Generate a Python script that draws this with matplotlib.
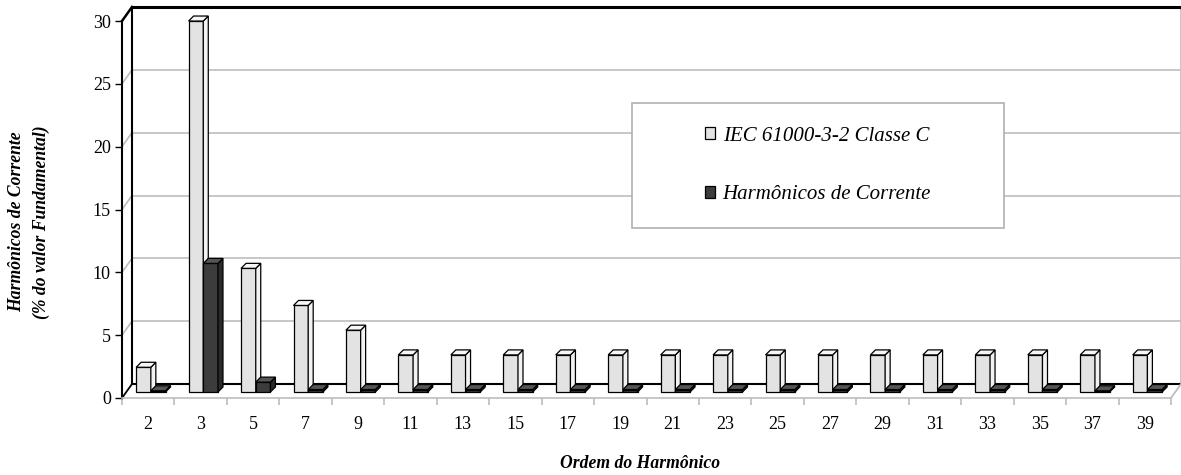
import matplotlib
matplotlib.use("Agg")
import matplotlib.pyplot as plt
from matplotlib.patches import Polygon, Rectangle, Patch
from matplotlib.lines import Line2D
import matplotlib.transforms as mtransforms

# Data
ordens = ["2", "3", "5", "7", "9", "11", "13", "15", "17", "19",
          "21", "23", "25", "27", "29", "31", "33", "35", "37", "39"]
iec_classe_c = [2, 30, 10, 7, 5, 3, 3, 3, 3, 3, 3, 3, 3, 3, 3, 3, 3, 3, 3, 3]
harm_corrente = [0.1, 10.4, 0.8, 0.2, 0.2, 0.2, 0.2, 0.2, 0.2, 0.2,
                 0.2, 0.2, 0.2, 0.2, 0.2, 0.2, 0.2, 0.2, 0.1, 0.2]
yticks = [0, 5, 10, 15, 20, 25, 30]

plt.rcParams['font.family'] = ['Liberation Serif', 'DejaVu Serif']

W, H = 1181, 475
fig = plt.figure(figsize=(W / 100, H / 100), dpi=100)
# front plane of the 3d box (pixels, origin top-left in the picture)
fx0, fx1, fy0, fy1 = 122, 1171, 398, 21
ax = fig.add_axes([fx0 / W, (H - fy0) / H, (fx1 - fx0) / W, (fy0 - fy1) / H])
ax.set_xlim(-0.5, len(ordens) - 0.5)
ax.set_ylim(0, 30)
ax.patch.set_visible(False)

DX, DY = 10, 14       # depth of the box
BDX, BDY = 5.5, 6     # bars sit halfway
TD = 5                # depth of one bar
K = 0.984             # bars a bit further back -> slightly smaller

back = mtransforms.offset_copy(ax.transData, fig=fig, x=DX, y=DY, units='dots')
y0 = ax.transData.transform((0, 0))[1]
mid = ax.transData + mtransforms.Affine2D().translate(0, -y0).scale(1, K).translate(BDX, y0 + BDY)
ident = mtransforms.IdentityTransform()

grid_c = '#bdbdbd'
xa, xb = -0.5, len(ordens) - 0.5


def seg(p, col, lw, z):
    ax.add_artist(Line2D([p[0], p[0] + DX], [p[1], p[1] + DY], transform=ident,
                         color=col, lw=lw, zorder=z, clip_on=False))


# back wall gridlines and connectors to front axis
for v in yticks[1:-1]:
    ax.plot([xa, xb], [v, v], transform=back, color=grid_c, lw=1.2, clip_on=False, zorder=1)
for v in yticks[1:]:
    p = ax.transData.transform((xa, v))
    if v < 30:
        seg(p, grid_c, 1.2, 1)
    else:
        seg(p, 'black', 1.8, 2)
# back wall edges
ax.plot([xa, xb], [30, 30], transform=back, color='black', lw=2.2, clip_on=False, zorder=2)
ax.plot([xa, xa], [0, 30], transform=back, color='black', lw=1.5, clip_on=False, zorder=2)
ax.plot([xa, xb], [0, 0], transform=back, color='black', lw=1.5, clip_on=False, zorder=2)
ax.plot([xb, xb], [0, 30], transform=back, color=grid_c, lw=1.2, clip_on=False, zorder=1)
# floor side edges
seg(ax.transData.transform((xa, 0)), 'black', 1.3, 2)
seg(ax.transData.transform((xb, 0)), grid_c, 1.3, 2)

ax.spines['top'].set_visible(False)
ax.spines['right'].set_visible(False)
ax.spines['left'].set_linewidth(1.5)
ax.spines['bottom'].set_color(grid_c)
ax.spines['bottom'].set_linewidth(1.2)


def bar3d(x, h, w, face, side, top, z):
    ax.bar(x, h, w, transform=mid, color=face, edgecolor='black', lw=0.9,
           clip_on=False, zorder=z)
    p0 = mid.transform((x - w / 2, h))
    p1 = mid.transform((x + w / 2, h))
    b1 = mid.transform((x + w / 2, 0))
    ax.add_artist(Polygon([b1, p1, (p1[0] + TD, p1[1] + TD), (b1[0] + TD, b1[1] + TD)],
                          closed=True, transform=ident, facecolor=side,
                          edgecolor='black', lw=0.9, zorder=z, clip_on=False))
    ax.add_artist(Polygon([p0, p1, (p1[0] + TD, p1[1] + TD), (p0[0] + TD, p0[1] + TD)],
                          closed=True, transform=ident, facecolor=top,
                          edgecolor='black', lw=0.9, zorder=z, clip_on=False))


bw = 0.28
for i in range(len(ordens)):
    bar3d(i - 0.195, iec_classe_c[i], bw, '#e3e3e3', '#f2f2f2', '#f7f7f7', 5 + 2 * i)
    bar3d(i + 0.085, harm_corrente[i], bw, '#3c3c3c', '#2a2a2a', '#555555', 6 + 2 * i)

ax.set_yticks(yticks)
ax.tick_params(axis='y', direction='out', length=5, width=1, color='black',
               labelsize=13, pad=3)
ax.set_xticks(range(len(ordens)))
ax.set_xticklabels(ordens)
ax.set_xticks([i - 0.5 for i in range(len(ordens) + 1)], minor=True)
ax.tick_params(axis='x', which='major', length=0, labelsize=13, pad=13)
ax.tick_params(axis='x', which='minor', direction='out', length=5, color=grid_c, width=1.2)

fig.text(640 / W, 1 - 463 / H, 'Ordem do Harmônico', ha='center', va='center',
         fontsize=12.7, fontweight='bold', style='italic')
fig.text(17 / W, 1 - 222 / H, 'Harmônicos de Corrente', ha='center', va='center',
         rotation=90, fontsize=12.7, fontweight='bold', style='italic')
fig.text(41 / W, 1 - 222 / H, '(% do valor Fundamental)', ha='center', va='center',
         rotation=90, fontsize=12.7, fontweight='bold', style='italic')

# legend box
lx0, lx1, ly0, ly1 = 632, 1004, 103, 228
fig.patches.append(Rectangle((lx0 / W, 1 - ly1 / H), (lx1 - lx0) / W, (ly1 - ly0) / H,
                             transform=fig.transFigure, facecolor='white',
                             edgecolor='#b0b0b0', lw=1.2, zorder=20))
handles = [Patch(facecolor='#e3e3e3', edgecolor='black', lw=0.9),
           Patch(facecolor='#3c3c3c', edgecolor='black', lw=0.9)]
leg = fig.legend(handles, ['IEC 61000-3-2 Classe C', 'Harmônicos de Corrente'],
                 loc='center', bbox_to_anchor=((lx0 + lx1) / 2 / W, 1 - (ly0 + ly1) / 2 / H),
                 frameon=False, prop={'style': 'italic', 'size': 15},
                 handlelength=0.5, handleheight=0.5, handletextpad=0.35, labelspacing=1.9)
leg.set_zorder(21)

fig.savefig('out.png', dpi=100)
